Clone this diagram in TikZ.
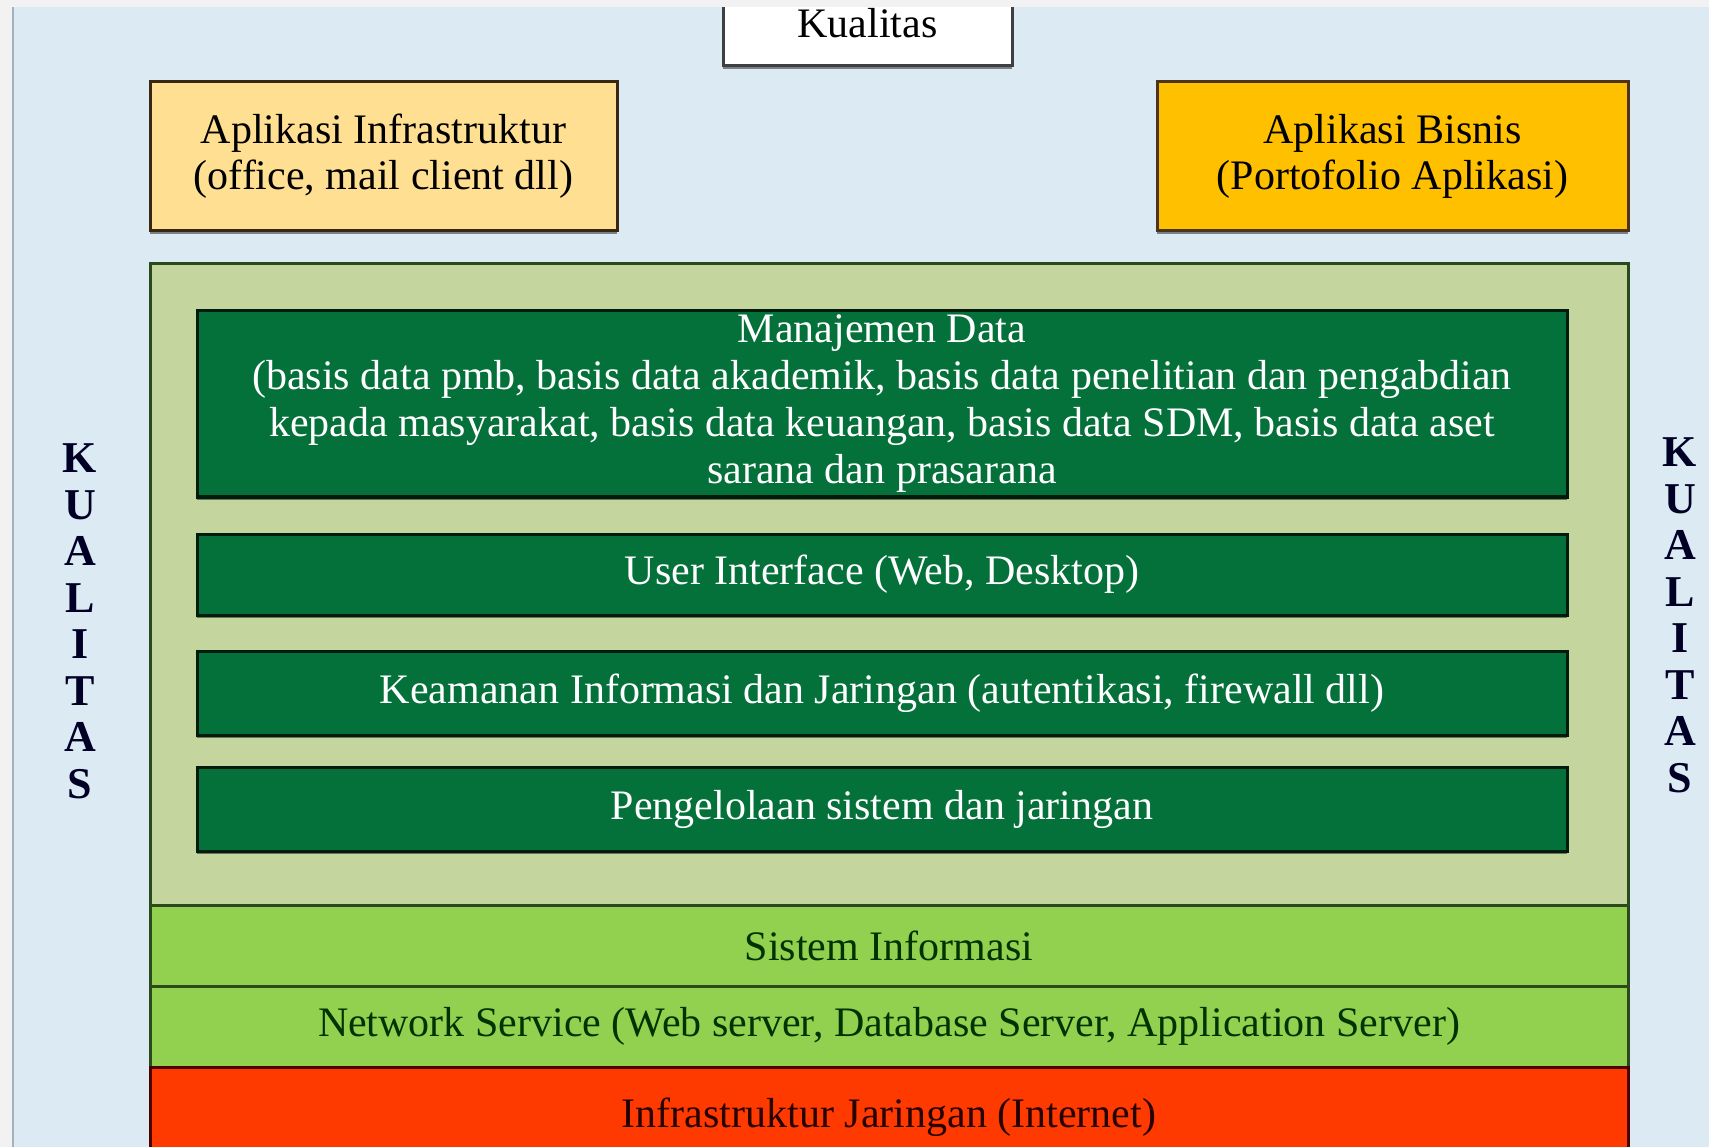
\documentclass[tikz,border=0pt]{standalone}
\usepackage{fontspec}
\setmainfont{Liberation Serif}
\usetikzlibrary{shadows}
\definecolor{bgblue}{HTML}{DCEBF3}
\definecolor{framegray}{HTML}{F2F2F2}
\definecolor{frameline}{HTML}{A3B2BC}
\definecolor{lightgold}{HTML}{FFE093}
\definecolor{gold}{HTML}{FFC000}
\definecolor{khaki}{HTML}{C4D69E}
\definecolor{darkgreen}{HTML}{04703A}
\definecolor{lightgreen}{HTML}{92D050}
\definecolor{redlayer}{HTML}{FF3A00}
\definecolor{edgegreen}{HTML}{2A4A1E}
\tikzset{
  box/.style={draw, line width=3pt, inner sep=0pt, outer sep=0pt, align=center,
    font=\fontsize{42}{46}\selectfont,
    drop shadow={shadow xshift=0pt, shadow yshift=-3pt, opacity=0.45, fill=black}},
  greenbox/.style={box, fill=darkgreen, draw=black!75!darkgreen, text=white,
    minimum width=1370pt},
  layer/.style={box, minimum width=1478pt, minimum height=81pt, draw=edgegreen},
  vert/.style={inner sep=0pt, align=center, text=black!85!blue,
    font=\fontsize{44}{46.5}\selectfont\bfseries}
}
\begin{document}
\begin{tikzpicture}[x=1pt,y=-1pt]
\useasboundingbox (0,0) rectangle (1709,1147);
% background and frame
\fill[framegray] (0,0) rectangle (1709,1147);
\fill[bgblue] (13,7) rectangle (1709,1147);
% top box (cut by frame)
\node[box, fill=white, draw=black!75, minimum width=289pt, minimum height=86pt] (kual) at (867.5,23) {Kualitas};
\fill[framegray] (0,0) rectangle (1709,7);
\draw[frameline, line width=2pt] (13,7) -- (13,1147);
% application boxes
\node[box, fill=lightgold, draw=black!70!brown, minimum width=467pt, minimum height=149pt] (infra) at (383.5,156.5)
  {Aplikasi Infrastruktur\\(office, mail client dll)};
\node[box, fill=gold, draw=black!60!brown, minimum width=471pt, minimum height=149pt] (bisnis) at (1392.5,156.5)
  {Aplikasi Bisnis\\(Portofolio Aplikasi)};
% outer container
\node[box, fill=khaki, draw=edgegreen, minimum width=1478pt, minimum height=641pt] (outer) at (889,584.5) {};
% inner green boxes
\node[greenbox, minimum height=186pt, font=\fontsize{42}{47}\selectfont] (mdata) at (882,404)
  {Manajemen Data\\(basis data pmb, basis data akademik, basis data penelitian dan pengabdian\\kepada masyarakat, basis data keuangan, basis data SDM, basis data aset\\sarana dan prasarana};
\node[greenbox, minimum height=81pt] (ui) at (882,574.5) {User Interface (Web, Desktop)};
\node[greenbox, minimum height=84pt] (keam) at (882,693) {Keamanan Informasi dan Jaringan (autentikasi, firewall dll)};
\node[greenbox, minimum height=84pt] (pengel) at (882,809) {Pengelolaan sistem dan jaringan};
% bottom layers
\node[layer, fill=lightgreen, text=black!80!green] (si) at (889,945.5) {Sistem Informasi};
\node[layer, fill=lightgreen, text=black!80!green] (net) at (889,1026.5) {Network Service (Web server, Database Server, Application Server)};
\node[layer, fill=redlayer, draw=black!70!red, text=black!85!red, minimum height=100pt] (inet) at (889,1117) {Infrastruktur Jaringan (Internet)};
% side labels
\node[vert] (kl) at (80,621.5) {K\\U\\A\\L\\I\\T\\A\\S};
\node[vert] (kr) at (1680,615.5) {K\\U\\A\\L\\I\\T\\A\\S};
\end{tikzpicture}
\end{document}
